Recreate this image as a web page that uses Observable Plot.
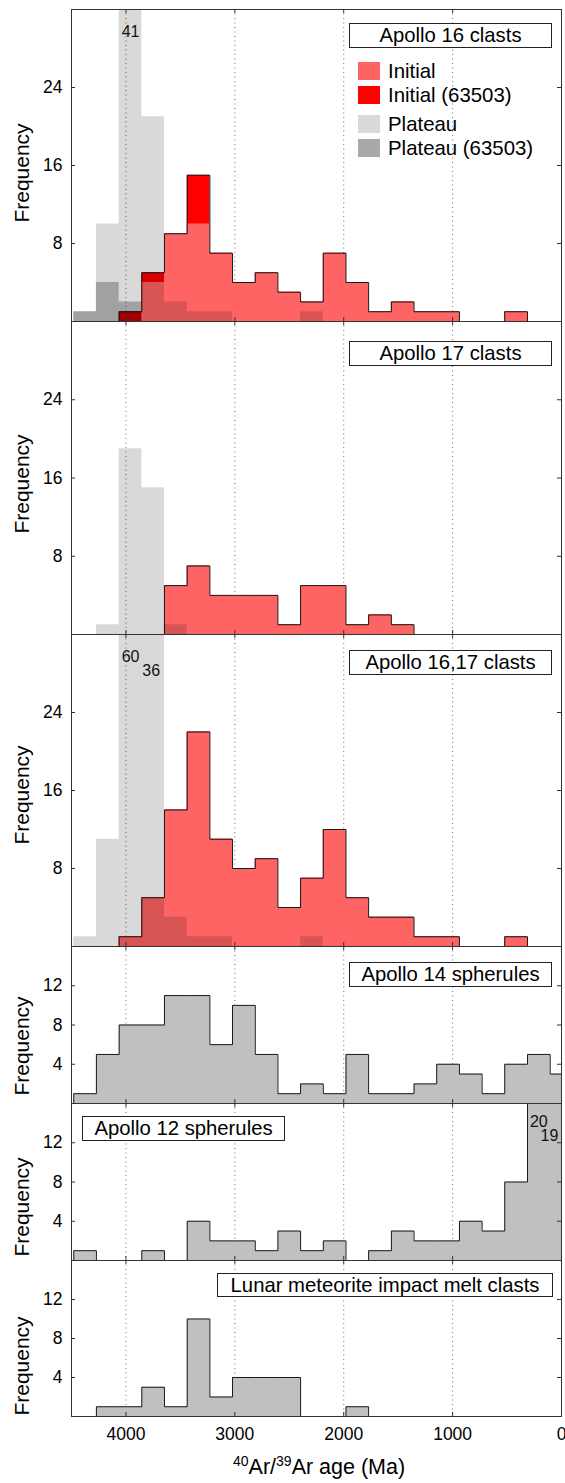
<!DOCTYPE html>
<html><head><meta charset="utf-8">
<script src="https://cdn.jsdelivr.net/npm/d3@7"></script>
<script src="https://cdn.jsdelivr.net/npm/@observablehq/plot@0.6"></script>
<style>
body{margin:0;background:#fff;font-family:"Liberation Sans",Arial,Helvetica,sans-serif;color:#000;}
#wrap{position:relative;width:565px;height:1483px;overflow:hidden;background:#fff;}
#wrap svg{position:absolute;left:0;}
.box{position:absolute;border:1px solid #222;background:#fff;font-size:20.3px;text-align:center;box-sizing:border-box;white-space:nowrap;}
.freq{position:absolute;font-size:21px;line-height:1;white-space:nowrap;transform:translate(-50%,-50%) rotate(-90deg);}
.leg{position:absolute;font-size:20.4px;line-height:1;white-space:nowrap;}
.sw{position:absolute;width:22px;height:18px;}
.xlab{position:absolute;font-size:21.5px;white-space:nowrap;line-height:1;}
.xlab sup{font-size:14px;vertical-align:8px;line-height:0;}
</style></head>
<body><div id="wrap"></div>
<script>
// ---- data ----
const binCenters = [4375, 4167, 3958, 3750, 3542, 3333, 3125, 2917, 2708, 2500, 2292, 2083, 1875, 1667, 1458, 1250, 1042, 833, 625, 417, 208, 0];
const binWidth = 208.33;
const ageTicks = [4000, 3000, 2000, 1000, 0];
const gridTicks = [4000, 3000, 2000, 1000];
const bigTicks = [8, 16, 24];
const smallTicks = [4, 8, 12];

// Apollo 16 clasts
const a16Initial      = [0, 0, 0, 4, 9, 10, 7, 4, 5, 3, 2, 7, 4, 1, 2, 1, 1, 0, 0, 1, 0, 0];
const a16Initial63503 = [0, 0, 1, 1, 0, 5, 0, 0, 0, 0, 0, 0, 0, 0, 0, 0, 0, 0, 0, 0, 0, 0];
const a16Plateau      = [1, 10, 41, 21, 2, 1, 1, 0, 0, 0, 1, 0, 0, 0, 0, 0, 0, 0, 0, 0, 0, 0];
const a16Plateau63503 = [1, 4, 2, 0, 0, 0, 0, 0, 0, 0, 0, 0, 0, 0, 0, 0, 0, 0, 0, 0, 0, 0];
// Apollo 17 clasts
const a17Initial      = [0, 0, 0, 0, 5, 7, 4, 4, 4, 1, 5, 5, 1, 2, 1, 0, 0, 0, 0, 0, 0, 0];
const a17Plateau      = [0, 1, 19, 15, 1, 0, 0, 0, 0, 0, 0, 0, 0, 0, 0, 0, 0, 0, 0, 0, 0, 0];
// Apollo 16,17 clasts
const a1617Initial    = [0, 0, 1, 5, 14, 22, 11, 8, 9, 4, 7, 12, 5, 3, 3, 1, 1, 0, 0, 1, 0, 0];
const a1617Plateau    = [1, 11, 60, 36, 3, 1, 1, 0, 0, 0, 1, 0, 0, 0, 0, 0, 0, 0, 0, 0, 0, 0];
// Spherules and meteorites
const a14Spherules    = [1, 5, 8, 8, 11, 11, 6, 10, 5, 1, 2, 1, 5, 1, 1, 2, 4, 3, 1, 4, 5, 3];
const a12Spherules    = [1, 0, 0, 1, 0, 4, 2, 2, 1, 3, 1, 2, 0, 1, 3, 2, 2, 4, 3, 8, 20, 19];
const lunarMeteorite  = [0, 1, 1, 3, 1, 10, 2, 4, 4, 4, 0, 0, 1, 0, 0, 0, 0, 0, 0, 0, 0, 0];

const titles = ["Apollo 16 clasts", "Apollo 17 clasts", "Apollo 16,17 clasts", "Apollo 14 spherules", "Apollo 12 spherules", "Lunar meteorite impact melt clasts"];
const legendLabels = ["Initial", "Initial (63503)", "Plateau", "Plateau (63503)"];

// ---- layout / style ----
const W = 565, ML = 71, MR = 4, PW = W - ML - MR;
const zeros = binCenters.map(() => 0);
const panels = [
  {kind: "clast", top: 9, h: 312, ymax: 32, ticks: bigTicks, initial: a16Initial, i63503: a16Initial63503, plateau: a16Plateau, p63503: a16Plateau63503,
   box: [349, 23, 203, 25], freqY: 173, lab: [{dy: 16, dx: 0}]},
  {kind: "clast", top: 321, h: 313, ymax: 32, ticks: bigTicks, initial: a17Initial, i63503: zeros, plateau: a17Plateau, p63503: zeros,
   box: [349, 341, 203, 25], freqY: 484, lab: []},
  {kind: "clast", top: 634, h: 312, ymax: 32, ticks: bigTicks, initial: a1617Initial, i63503: zeros, plateau: a1617Plateau, p63503: zeros,
   box: [349, 650, 203, 25], freqY: 795, lab: [{dy: 16, dx: 0}, {dy: 30, dx: -2}]},
  {kind: "gray", top: 946, h: 157, ymax: 16, ticks: smallTicks, counts: a14Spherules,
   box: [349, 962, 203, 25], freqY: 1046, lab: []},
  {kind: "gray", top: 1103, h: 157, ymax: 16, ticks: smallTicks, counts: a12Spherules,
   box: [82, 1116, 203, 25], freqY: 1207, lab: [{dy: 12, dx: 0}, {dy: 26, dx: -12}]},
  {kind: "gray", top: 1260, h: 156, ymax: 16, ticks: smallTicks, counts: lunarMeteorite,
   box: [217, 1273, 336, 24], freqY: 1366, lab: []}
];

// stair outline of a histogram: left edge of each bin, then the right edge of the last bin
function stairs(counts) {
  const last = binCenters.length - 1;
  const pts = [{x: binCenters[0] + binWidth / 2, y: 0}];
  binCenters.forEach((c, i) => pts.push({x: c + binWidth / 2, y: counts[i]}));
  pts.push({x: binCenters[last] - binWidth / 2, y: counts[last]});
  pts.push({x: binCenters[last] - binWidth / 2, y: 0});
  return pts;
}

const wrap = document.getElementById("wrap");

panels.forEach((p, k) => {
  const isLast = k === panels.length - 1;
  const mt = 10, mb = isLast ? 45 : 10;
  const step = {x: "x", y: "y", curve: "step-after"};
  let totals, over;
  const marks = [
    Plot.ruleX(gridTicks, {x: d => d, stroke: "#6e6e6e", strokeWidth: 1, strokeDasharray: "1,3.5"})
  ];
  if (p.kind === "clast") {
    totals = p.initial.map((v, i) => v + p.i63503[i]);
    over = p.plateau;
    marks.push(
      Plot.areaY(stairs(totals), {...step, fill: "#ff0000"}),
      Plot.areaY(stairs(p.initial), {...step, fill: "#ff6464"}),
      Plot.line(stairs(totals), {...step, stroke: "#1a1a1a", strokeWidth: 1}),
      Plot.areaY(stairs(p.plateau), {...step, fill: "#000", fillOpacity: 0.15}),
      Plot.areaY(stairs(p.p63503), {...step, fill: "#000", fillOpacity: 0.26})
    );
  } else {
    totals = p.counts;
    over = p.counts;
    marks.push(
      Plot.areaY(stairs(totals), {...step, fill: "#c0c0c0"}),
      Plot.line(stairs(totals), {...step, stroke: "#1a1a1a", strokeWidth: 1})
    );
  }
  const overflow = binCenters.map((c, i) => ({center: c, value: over[i]})).filter(r => r.value > p.ymax);
  overflow.forEach((r, j) => {
    const o = p.lab[j] || {dy: 16, dx: 0};
    marks.push(Plot.text([r], {x: "center", text: d => String(d.value), frameAnchor: "top", dy: o.dy, dx: o.dx, fontSize: 16, fill: "#111"}));
  });
  marks.push(
    Plot.tickY(p.ticks, {y: d => d, stroke: "#333", insetRight: PW - 4}),
    Plot.tickY(p.ticks, {y: d => d, stroke: "#333", insetLeft: PW - 4}),
    Plot.tickX(gridTicks, {x: d => d, stroke: "#333", insetTop: p.h - 4}),
    Plot.tickX(gridTicks, {x: d => d, stroke: "#333", insetBottom: p.h - 4}),
    Plot.frame({stroke: "#333"}),
    Plot.axisY(p.ticks, {anchor: "left", tickSize: 0, tickPadding: 9, fontSize: 17.5, tickFormat: d3.format("d"), label: null})
  );
  if (isLast) {
    marks.push(Plot.axisX(ageTicks, {anchor: "bottom", tickSize: 0, tickPadding: 11, fontSize: 17.5, tickFormat: d3.format("d"), label: null}));
  }
  const svg = Plot.plot({
    width: W, height: p.h + mt + mb,
    marginLeft: ML, marginRight: MR, marginTop: mt, marginBottom: mb,
    style: {background: "transparent", overflow: "visible", fontFamily: "'Liberation Sans', Arial, Helvetica, sans-serif"},
    x: {domain: [4500, 0], clamp: true, axis: null},
    y: {domain: [0, p.ymax], clamp: true, axis: null},
    marks
  });
  svg.style.top = (p.top - mt) + "px";
  wrap.appendChild(svg);

  // title box
  const b = document.createElement("div");
  b.className = "box";
  b.style.left = p.box[0] + "px"; b.style.top = p.box[1] + "px";
  b.style.width = p.box[2] + "px"; b.style.height = p.box[3] + "px";
  b.style.lineHeight = (p.box[3] - 2) + "px";
  b.textContent = titles[k];
  wrap.appendChild(b);

  // y label
  const f = document.createElement("div");
  f.className = "freq";
  f.style.left = "21px"; f.style.top = p.freqY + "px";
  f.textContent = "Frequency";
  wrap.appendChild(f);
});

// legend (panel 1)
const legColors = ["#ff6464", "#ff0000", "#d9d9d9", "#a9a9a9"];
const legRows = [62, 86, 115, 139];
legendLabels.forEach((t, i) => {
  const s = document.createElement("div");
  s.className = "sw";
  s.style.left = "358px"; s.style.top = legRows[i] + "px"; s.style.background = legColors[i];
  wrap.appendChild(s);
  const l = document.createElement("div");
  l.className = "leg";
  l.style.left = "388px"; l.style.top = (legRows[i] - 1) + "px";
  l.textContent = t;
  wrap.appendChild(l);
});

// x axis title
const xl = document.createElement("div");
xl.className = "xlab";
xl.style.left = "233px"; xl.style.top = "1457px";
xl.innerHTML = "<sup>40</sup>Ar/<sup>39</sup>Ar age (Ma)";
wrap.appendChild(xl);
</script>
</body></html>
